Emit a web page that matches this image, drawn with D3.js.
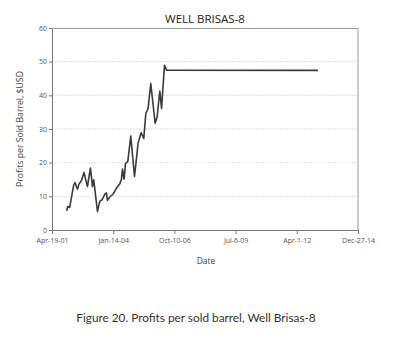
<!DOCTYPE html>
<html>
<head>
<meta charset="utf-8">
<script src="https://cdn.jsdelivr.net/npm/d3@7"></script>
<style>
  body { margin: 0; background: #fff; }
  svg { display: block; }
</style>
</head>
<body>
<svg id="chart"></svg>
<script>
// data
const dates = [
    '2001-12-15', '2002-01-01', '2002-02-02', '2002-04-09', '2002-04-30', '2002-06-08',
    '2002-07-05', '2002-08-13', '2002-09-24', '2002-11-19', '2003-01-07', '2003-02-09',
    '2003-03-02', '2003-05-02', '2003-06-08', '2003-07-16', '2003-09-03', '2003-09-26',
    '2003-10-12', '2003-11-19', '2004-01-12', '2004-02-13', '2004-03-17', '2004-04-30',
    '2004-05-28', '2004-06-14', '2004-07-10', '2004-08-02', '2004-09-08', '2004-10-27',
    '2004-12-27', '2005-02-24', '2005-04-14', '2005-05-28', '2005-06-30', '2005-08-06',
    '2005-09-19', '2005-11-29', '2005-12-31', '2006-02-14', '2006-03-14', '2006-05-01',
    '2006-06-03', '2013-03-12'
];
const profits = [
    5.7, 7.0, 6.7, 13.4, 14.1, 12.1,
    13.7, 14.6, 17.1, 12.9, 18.4, 12.9,
    14.9, 5.5, 8.5, 9.0, 10.7, 11.0,
    8.8, 9.8, 10.7, 11.7, 12.7, 13.7,
    15.1, 18.1, 15.1, 19.8, 20.3, 27.9,
    15.9, 25.8, 28.9, 27.2, 34.6, 36.1,
    43.5, 31.7, 33.5, 41.3, 36.1, 48.9,
    47.5, 47.4
];
const xTickDates = ['2001-04-19', '2004-01-14', '2006-10-10', '2009-07-06', '2012-04-01', '2014-12-27'];
const yTicks = [0, 10, 20, 30, 40, 50, 60];

const title = 'WELL BRISAS-8';
const yLabel = 'Profits per Sold Barrel, $USD';
const xLabel = 'Date';
const caption = 'Figure 20. Profits per sold barrel, Well Brisas-8';

const width = 395, height = 337;
const margin = {top: 28, right: 37, bottom: 107, left: 52};
const inner_width = width - margin.left - margin.right;
const inner_height = height - margin.top - margin.bottom;

const parse = d3.utcParse('%Y-%m-%d');
const data = dates.map((d, i) => ({date: parse(d), value: profits[i]}));
const tickDates = xTickDates.map(parse);

const svg = d3.select('#chart')
    .attr('width', width)
    .attr('height', height);

const chart = svg.append('g')
    .attr('transform', `translate(${margin.left}, ${margin.top})`);

const xscale = d3.scaleUtc()
    .domain([tickDates[0], tickDates[tickDates.length - 1]])
    .range([0, inner_width]);

const yscale = d3.scaleLinear()
    .domain([0, 60])
    .range([inner_height, 0]);

// gridlines
chart.append('g')
    .selectAll('line')
    .data(yTicks.filter(d => d > 0 && d < 60))
    .join('line')
    .attr('x1', 0)
    .attr('x2', inner_width)
    .attr('y1', d => yscale(d))
    .attr('y2', d => yscale(d))
    .attr('stroke', '#d8d8d8')
    .attr('stroke-width', 0.8)
    .attr('stroke-dasharray', '2,1');

// plot frame top and right
chart.append('path')
    .attr('d', `M0,0.5H${inner_width}V${inner_height}`)
    .attr('fill', 'none')
    .attr('stroke', '#999')
    .attr('stroke-width', 1);

const fmt = d3.utcFormat('%b-%-d-%y');

const xaxis = d3.axisBottom(xscale)
    .tickValues(tickDates)
    .tickFormat(fmt)
    .tickSize(4)
    .tickSizeOuter(0);

const yaxis = d3.axisLeft(yscale)
    .tickValues(yTicks)
    .tickSize(3)
    .tickSizeOuter(0);

const xaxis_group = chart.append('g')
    .attr('transform', `translate(0, ${inner_height})`)
    .call(xaxis);

const yaxis_group = chart.append('g')
    .call(yaxis);

[xaxis_group, yaxis_group].forEach(g => {
    g.select('.domain').attr('stroke', '#777');
    g.selectAll('.tick line').attr('stroke', '#777');
    g.selectAll('.tick text')
        .attr('fill', '#555')
        .attr('font-family', 'Open Sans, sans-serif')
        .attr('font-size', 7);
});
xaxis_group.selectAll('.tick text').attr('dy', '0.9em');
yaxis_group.selectAll('.tick text').attr('x', -5);

// line
const line = d3.line()
    .x(d => xscale(d.date))
    .y(d => yscale(d.value));

chart.append('path')
    .datum(data)
    .attr('d', line)
    .attr('fill', 'none')
    .attr('stroke', '#3a3a3a')
    .attr('stroke-width', 1.6)
    .attr('stroke-linejoin', 'round');

// texts
svg.append('text')
    .attr('x', 205)
    .attr('y', 23)
    .attr('text-anchor', 'middle')
    .attr('font-family', 'Open Sans, sans-serif')
    .attr('font-size', 11.5)
    .attr('fill', '#222')
    .text(title);

svg.append('text')
    .attr('transform', `translate(23, ${margin.top + inner_height / 2}) rotate(-90)`)
    .attr('text-anchor', 'middle')
    .attr('font-family', 'Open Sans, sans-serif')
    .attr('font-size', 8.7)
    .attr('fill', '#444')
    .text(yLabel);

svg.append('text')
    .attr('x', 206)
    .attr('y', 264)
    .attr('text-anchor', 'middle')
    .attr('font-family', 'Open Sans, sans-serif')
    .attr('font-size', 8.5)
    .attr('fill', '#444')
    .text(xLabel);

svg.append('text')
    .attr('x', 196)
    .attr('y', 322)
    .attr('text-anchor', 'middle')
    .attr('font-family', 'Lato, sans-serif')
    .attr('font-size', 11.8)
    .attr('fill', '#333')
    .text(caption);
</script>
</body>
</html>
